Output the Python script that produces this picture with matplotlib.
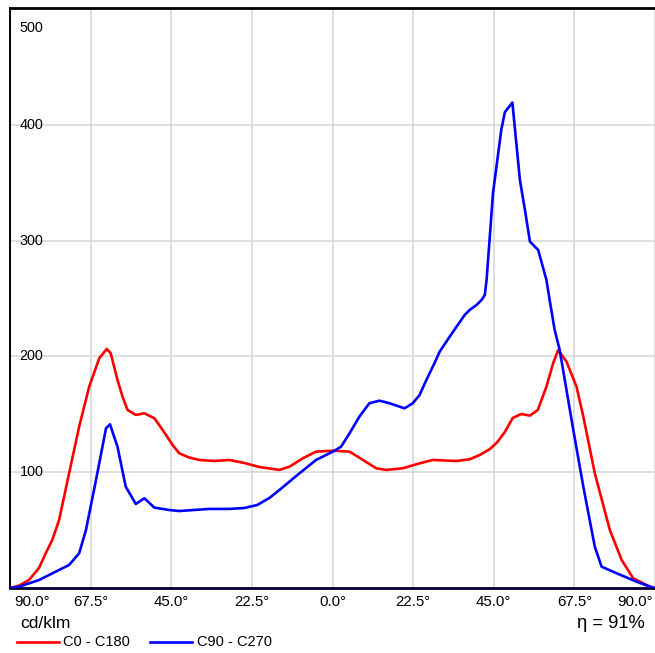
import matplotlib
matplotlib.use("Agg")
import matplotlib.pyplot as plt
from matplotlib.lines import Line2D

plt.rcParams["font.family"] = ["Liberation Sans", "DejaVu Sans"]

# C0 - C180 plane (angle in degrees, intensity in cd/klm)
c0_angle = [-90, -87.5, -84.7, -81.9, -80, -78.2, -76.3, -73.5, -70.7, -67.9,
            -65.1, -63, -61.9, -60, -58.6, -57.2, -54.9, -52.5, -49.7, -47.4,
            -44.6, -42.8, -40, -37.2, -33, -28.8, -24.6, -20.4, -14.8, -12,
            -8.3, -4.6, 0.1, 4.75, 8.5, 12.2, 15, 19.6, 24.3, 28, 34.6, 38.3,
            41.1, 43.9, 46, 48.1, 50.3, 52.7, 55.1, 57.3, 59.7, 61.6, 63,
            65.3, 68.1, 70, 73.2, 77.4, 80.7, 83.9, 88.6, 90]
c0_value = [0, 2, 6.9, 17.3, 30.2, 41.5, 58.7, 99.1, 139.4, 173.9,
            198.4, 206.5, 202.8, 179.7, 165.3, 153.8, 149.5, 150.9, 146.6, 136.5,
            123.5, 116.4, 112.7, 110.6, 109.7, 110.6, 108, 104.5, 102, 104.8,
            112, 117.8, 118.6, 117.8, 110.6, 103.4, 102, 103.4, 107.7, 110.6, 109.7, 111.2,
            114.9, 120, 126, 134.8, 146.9, 150.3, 148.9, 153.8, 173.9, 194.4, 205.6,
            195.5, 173.9, 148, 99.1, 50.1, 24.2, 8.4, 1.1, 0]

# C90 - C270 plane
c90_angle = [-90, -87.5, -81.9, -73.5, -70.7, -68.8, -66, -63.2, -62.1, -60,
             -57.7, -54.9, -52.5, -49.7, -45.6, -42.8, -34.4, -28.8, -24.6, -21,
             -17.6, -14.8, -9.2, -4.6, 0.1, 2.4, 4.75, 7.5, 10.3, 13.1,
             15.9, 20.1, 22.4, 24.3, 26.2, 28.5, 29.9, 32.7, 36.9, 38.3,
             40.2, 41.6, 42.5, 43, 44.8, 47.1, 48.1, 50.2, 52.3, 53.7,
             55.1, 57.4, 59.7, 60.6, 62, 63.4, 67.2, 70, 73.2, 75.1,
             79.3, 84.9, 89.1, 90]
c90_value = [0, 1.1, 6.9, 19.9, 30, 50.1, 93.3, 138, 141.4, 122,
             87.5, 72.6, 77.5, 69.4, 67.4, 66.5, 68.3, 68.3, 69.1, 71.7,
             77.8, 84.7, 99.1, 110.6, 117.8, 122.1, 133.6, 148, 159.6, 161.8,
             159.6, 155.2, 159.6, 166.7, 179.7, 194.4, 204.1, 217.1, 235.9, 240.2,
             244.5, 248.8, 253.1, 266.1, 341.3, 395.7, 411, 419.3, 352.5, 326.6,
             299.2, 292, 266.1, 248.8, 222.9, 205.6, 136.5, 87.5, 35.7, 18.4,
             12.7, 5.4, 0.6, 0]

x_ticks = [-90, -67.5, -45, -22.5, 0, 22.5, 45, 67.5, 90]
x_labels = ["90.0°", "67.5°", "45.0°", "22.5°", "0.0°", "22.5°", "45.0°", "67.5°", "90.0°"]
y_ticks = [100, 200, 300, 400, 500]
efficiency = 91

W, H = 655, 653


def fx(px):
    return px / W


def fy(py):
    return 1 - py / H


fig = plt.figure(figsize=(W / 100, H / 100), dpi=100)
ax = fig.add_axes([fx(10), fy(588), 645 / W, 580 / H])
ax.set_xlim(-90, 90)
ax.set_ylim(0, 501)

ax.plot(c0_angle, c0_value, color="#ff0000", lw=1.9, zorder=3,
        solid_joinstyle="round")
ax.plot(c90_angle, c90_value, color="#0000ff", lw=1.9, zorder=3,
        solid_joinstyle="round")

ax.set_xticks(x_ticks)
ax.set_yticks(y_ticks[:-1])
ax.tick_params(length=0, labelleft=False, labelbottom=False)
ax.grid(True, color="#d6d6d6", lw=1.1, zorder=0)

# angle labels under the axis; the two end labels are pulled inward
xt = ax.get_xaxis_transform()
for i, (v, lab) in enumerate(zip(x_ticks, x_labels)):
    if i == 0:
        ax.text(v + 1.1, -0.0241, lab, transform=xt, ha="left", va="center",
                fontsize=10.8, clip_on=False)
    elif i == len(x_ticks) - 1:
        ax.text(v - 0.6, -0.0241, lab, transform=xt, ha="right", va="center",
                fontsize=10.8, clip_on=False)
    else:
        ax.text(v, -0.0241, lab, transform=xt, ha="center", va="center",
                fontsize=10.8, clip_on=False)

# y labels sit inside the plot, 500 is nudged down below the frame
for v in y_ticks:
    yy = 484 if v == 500 else v
    ax.text(-87.3, yy, str(v), ha="left", va="center", fontsize=10.4, zorder=4)

ax.spines["right"].set_visible(False)
ax.spines["left"].set_linewidth(1.4)
ax.spines["top"].set_linewidth(2.0)
ax.spines["bottom"].set_linewidth(2.0)
ax.spines["bottom"].set_color("#000033")

fig.text(fx(20), fy(624), "cd/klm", ha="left", va="center", fontsize=12.5)
fig.text(fx(645), fy(623), f"η = {efficiency}%", ha="right", va="center", fontsize=13.2)

# hand-placed legend row
ly = fy(642)
fig.add_artist(Line2D([fx(17), fx(59)], [ly, ly], color="#ff0000", lw=1.9))
fig.text(fx(63), ly, "C0 - C180", ha="left", va="center", fontsize=10.5)
fig.add_artist(Line2D([fx(150), fx(192)], [ly, ly], color="#0000ff", lw=1.9))
fig.text(fx(197), ly, "C90 - C270", ha="left", va="center", fontsize=10.5)

fig.savefig("out.png", dpi=100)
